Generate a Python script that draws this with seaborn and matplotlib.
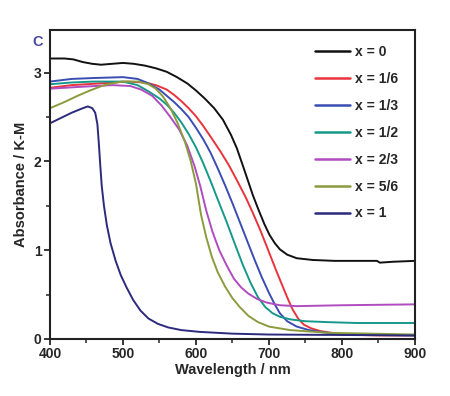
import numpy as np
import pandas as pd
import seaborn as sns
import matplotlib.pyplot as plt
from matplotlib.ticker import MultipleLocator

# series labels (x in composition)
labels = ["x = 0", "x = 1/6", "x = 1/3", "x = 1/2", "x = 2/3", "x = 5/6", "x = 1"]
colors = ["#111111", "#e8343c", "#3a4db2", "#16998a", "#b04cc0", "#8b9b3e", "#2c2a7c"]

# (wavelength in nm, K-M absorbance)
wl_0 = [400, 420, 432, 445, 458, 470, 485, 500, 515, 530, 545, 560, 574, 588, 600, 612, 625, 637,
        648, 656, 664, 671, 678, 686, 694, 701, 708, 715, 725, 738, 760, 790, 830, 848, 852, 870, 900]
ab_0 = [3.16, 3.16, 3.15, 3.12, 3.10, 3.09, 3.10, 3.11, 3.10, 3.08, 3.05, 3.01, 2.95, 2.88, 2.80,
        2.71, 2.60, 2.47, 2.30, 2.15, 1.96, 1.79, 1.62, 1.45, 1.29, 1.17, 1.08, 1.01, 0.95, 0.91,
        0.89, 0.88, 0.88, 0.88, 0.86, 0.87, 0.88]

wl_16 = [400, 430, 470, 505, 530, 545, 560, 570, 580, 590, 600, 610, 620, 633, 645, 656, 668, 678,
         688, 700, 710, 718, 725, 732, 740, 748, 758, 770, 785, 800, 850, 900]
ab_16 = [2.83, 2.86, 2.88, 2.90, 2.89, 2.86, 2.81, 2.75, 2.68, 2.60, 2.51, 2.40, 2.28, 2.12, 1.96,
         1.79, 1.60, 1.42, 1.23, 0.98, 0.77, 0.61, 0.47, 0.34, 0.23, 0.16, 0.12, 0.09, 0.07, 0.05,
         0.04, 0.04]

wl_13 = [400, 430, 460, 500, 520, 535, 550, 560, 570, 580, 590, 600, 610, 620, 630, 640, 650, 660,
         670, 680, 690, 700, 708, 715, 725, 738, 755, 770, 800, 900]
ab_13 = [2.90, 2.93, 2.94, 2.95, 2.93, 2.88, 2.81, 2.74, 2.67, 2.59, 2.50, 2.38, 2.25, 2.10, 1.92,
         1.73, 1.53, 1.32, 1.11, 0.90, 0.70, 0.52, 0.39, 0.29, 0.20, 0.14, 0.10, 0.08, 0.05, 0.04]

wl_12 = [400, 430, 460, 500, 520, 535, 550, 560, 570, 580, 590, 600, 610, 620, 630, 642, 652, 664,
         675, 685, 695, 705, 715, 730, 750, 780, 820, 900]
ab_12 = [2.87, 2.89, 2.90, 2.90, 2.86, 2.79, 2.71, 2.64, 2.55, 2.44, 2.31, 2.16, 1.98, 1.78, 1.57,
         1.32, 1.10, 0.84, 0.63, 0.47, 0.36, 0.29, 0.25, 0.22, 0.20, 0.19, 0.18, 0.18]

wl_23 = [400, 440, 485, 510, 525, 540, 553, 565, 577, 588, 598, 606, 614, 623, 632, 642, 652, 662,
         672, 684, 697, 715, 738, 800, 900]
ab_23 = [2.82, 2.84, 2.86, 2.85, 2.81, 2.74, 2.63, 2.50, 2.36, 2.18, 1.95, 1.72, 1.45, 1.20, 1.00,
         0.83, 0.68, 0.58, 0.51, 0.45, 0.41, 0.38, 0.37, 0.38, 0.39]

wl_56 = [400, 420, 438, 455, 471, 485, 499, 521, 535, 545, 555, 565, 575, 585, 593, 600, 607, 614,
         622, 630, 640, 650, 660, 672, 685, 700, 729, 780, 900]
ab_56 = [2.60, 2.67, 2.74, 2.80, 2.85, 2.88, 2.90, 2.90, 2.87, 2.82, 2.73, 2.60, 2.43, 2.22, 2.00,
         1.75, 1.40, 1.15, 0.92, 0.75, 0.59, 0.46, 0.36, 0.26, 0.19, 0.14, 0.10, 0.07, 0.05]

wl_1 = [400, 415, 430, 445, 452, 458, 462, 465, 467, 469, 471, 474, 478, 483, 490, 497, 505, 514,
        524, 535, 548, 562, 580, 605, 650, 700, 900]
ab_1 = [2.43, 2.49, 2.55, 2.60, 2.62, 2.60, 2.55, 2.42, 2.20, 1.95, 1.72, 1.50, 1.28, 1.08, 0.88,
        0.72, 0.58, 0.44, 0.32, 0.23, 0.17, 0.13, 0.10, 0.08, 0.06, 0.05, 0.04]

series = [(wl_0, ab_0), (wl_16, ab_16), (wl_13, ab_13), (wl_12, ab_12),
          (wl_23, ab_23), (wl_56, ab_56), (wl_1, ab_1)]

frames = []
for lab, (w, a) in zip(labels, series):
    frames.append(pd.DataFrame({"wl": w, "ab": a, "x": lab}))
df = pd.concat(frames, ignore_index=True)

sns.set_style("ticks")
plt.rcParams["font.family"] = ["Liberation Sans", "DejaVu Sans"]
plt.rcParams["font.weight"] = "bold"

fig = plt.figure(figsize=(4.5, 3.96), dpi=100)
ax = fig.add_axes([0.111, 0.144, 0.811, 0.780])

sns.lineplot(data=df, x="wl", y="ab", hue="x", hue_order=labels,
             palette=dict(zip(labels, colors)), estimator=None, sort=False,
             linewidth=1.4, ax=ax)

ax.set_xlim(400, 900)
ax.set_ylim(0, 3.48)
ax.xaxis.set_major_locator(MultipleLocator(100))
ax.xaxis.set_minor_locator(MultipleLocator(50))
ax.yaxis.set_major_locator(MultipleLocator(1))
ax.yaxis.set_minor_locator(MultipleLocator(0.5))
ax.tick_params(which="major", direction="out", length=4, width=1.3, labelsize=10, pad=2)
ax.tick_params(which="minor", direction="out", length=3, width=1.1)
for lab in ax.get_xticklabels() + ax.get_yticklabels():
    lab.set_fontweight("bold")
for sp in ax.spines.values():
    sp.set_linewidth(1.5)
    sp.set_color("#222222")

ax.set_xlabel("Wavelength / nm", fontsize=10.5, fontweight="bold", labelpad=1)
ax.set_ylabel("Absorbance / K-M", fontsize=10.5, fontweight="bold", labelpad=4)

leg = ax.legend(loc="upper right", frameon=False, fontsize=10, handlelength=2.5,
                labelspacing=0.93, handletextpad=0.36, borderaxespad=0,
                bbox_to_anchor=(0.969, 0.97))
for t in leg.get_texts():
    t.set_fontweight("bold")
for h in leg.get_lines():
    h.set_linewidth(1.8)

fig.text(0.083, 0.895, "C", color="#4a4aa0", fontsize=10.5, fontweight="bold",
         ha="center", va="center")

fig.savefig("out.png", dpi=100)
